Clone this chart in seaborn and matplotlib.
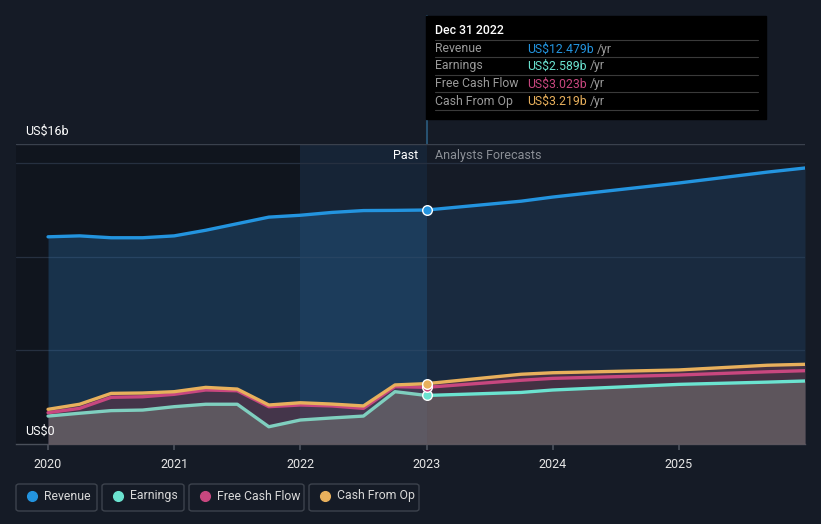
import numpy as np
import pandas as pd
import matplotlib
matplotlib.use('Agg')
import matplotlib.pyplot as plt
import seaborn as sns
from matplotlib.patches import Rectangle, FancyBboxPatch
from matplotlib.lines import Line2D

# Past values (US$b), quarterly
past_x = [2020.0, 2020.25, 2020.5, 2020.75, 2021.0, 2021.25, 2021.5,
          2021.75, 2022.0, 2022.25, 2022.5, 2022.75, 2023.0]
past_revenue = [11.05, 11.1, 11.0, 11.0, 11.1, 11.4, 11.75, 12.1, 12.2, 12.35, 12.45, 12.46, 12.479]
past_earnings = [1.49, 1.64, 1.78, 1.81, 1.99, 2.12, 2.12, 0.92, 1.28, 1.39, 1.49, 2.79, 2.589]
past_fcf = [1.67, 1.9, 2.49, 2.52, 2.65, 2.88, 2.84, 1.99, 2.08, 2.03, 1.9, 3.06, 3.023]
past_cfo = [1.85, 2.12, 2.7, 2.72, 2.79, 3.02, 2.93, 2.08, 2.2, 2.13, 2.03, 3.15, 3.219]

# Analyst forecasts (US$b)
fc_x = [2023.0, 2023.75, 2024.0, 2025.0, 2025.7, 2026.0]
fc_revenue = [12.479, 12.95, 13.17, 13.92, 14.5, 14.72]
fc_earnings = [2.589, 2.75, 2.88, 3.18, 3.3, 3.36]
fc_fcf = [3.023, 3.4, 3.5, 3.68, 3.85, 3.91]
fc_cfo = [3.219, 3.72, 3.8, 3.95, 4.2, 4.25]

year_ticks = [2020, 2021, 2022, 2023, 2024, 2025]
series_names = ['Revenue', 'Earnings', 'Free Cash Flow', 'Cash From Op']
tooltip_values = ['US$12.479b', 'US$2.589b', 'US$3.023b', 'US$3.219b']
colors = ['#2394df', '#6be3d0', '#c8477f', '#e8b05c']

BG = '#151b26'
W, H = 821, 524

sns.set_theme(style='dark')
plt.rcParams['font.family'] = ['Roboto', 'DejaVu Sans']

past = pd.DataFrame({'x': past_x, 'Revenue': past_revenue, 'Earnings': past_earnings,
                     'Free Cash Flow': past_fcf, 'Cash From Op': past_cfo})
fc = pd.DataFrame({'x': fc_x, 'Revenue': fc_revenue, 'Earnings': fc_earnings,
                   'Free Cash Flow': fc_fcf, 'Cash From Op': fc_cfo})


def fx(x):
    return x / W


def fy(y):
    return 1 - y / H


fig = plt.figure(figsize=(W / 100, H / 100), dpi=100, facecolor=BG)
ax = fig.add_axes([fx(16), fy(444), (805 - 16) / W, 300 / H])
ax.set_facecolor(BG)
ax.set_xlim(2019.746, 2026.0)
ax.set_ylim(0, 16)

# background regions
ax.axvspan(2019.746, 2022, color='#0c0f15', alpha=0.45, lw=0, zorder=0)
ax.axvspan(2022, 2023, color='#1b5280', alpha=0.18, lw=0, zorder=0)

for g in [5, 10, 15]:
    ax.axhline(g, color='#263040', lw=0.9, zorder=1)
ax.axhline(16, color='#3a414d', lw=1.0, zorder=1)

# area fills
ax.fill_between(past['x'], past['Revenue'], color='#2a6fa8', alpha=0.33, lw=0, zorder=2)
ax.fill_between(fc['x'], fc['Revenue'], color='#24507a', alpha=0.3, lw=0, zorder=2)
for d in [past, fc]:
    ax.fill_between(d['x'], d['Cash From Op'], color='#7a3a4a', alpha=0.45, lw=0, zorder=3)
    ax.fill_between(d['x'], d['Earnings'], color='#6e6e6e', alpha=0.6, lw=0, zorder=4)

# lines
for name, c in zip(series_names, colors):
    lc = c
    if name == 'Earnings':
        lc = '#7fcfbf'
    sns.lineplot(data=past, x='x', y=name, color=lc, lw=2.4, ax=ax, zorder=6)
    sns.lineplot(data=fc, x='x', y=name, color=c, lw=2.4, ax=ax, zorder=6)

# end-of-past markers
for name, c in zip(series_names, colors):
    ax.scatter([2023.0], [past[name].iloc[-1]], s=48, color=c, edgecolor='white',
               linewidth=1.0, zorder=8, clip_on=False)

ax.set_xticks(year_ticks)
ax.set_xticklabels([str(y) for y in year_ticks], color='#e6e6e6', fontsize=9)
ax.set_yticks([])
ax.set_xlabel('')
ax.set_ylabel('')
ax.tick_params(axis='x', length=4, color='#4a505a', pad=6, bottom=True)
for s in ['top', 'left', 'right']:
    ax.spines[s].set_visible(False)
ax.spines['bottom'].set_color('#4a505a')
ax.spines['bottom'].set_linewidth(1.0)
ax.grid(False)

# axis value labels
fig.text(fx(25), fy(131), 'US$16b', color='white', fontsize=9, va='center')
fig.text(fx(25), fy(431), 'US$0', color='white', fontsize=9, va='center')
fig.text(fx(418), fy(156), 'Past', color='white', fontsize=9, ha='right', va='center')
fig.text(fx(435), fy(156), 'Analysts Forecasts', color='#8b8f96', fontsize=9, va='center')

# vertical marker line at Dec 2022
fig.add_artist(Line2D([fx(427), fx(427)], [fy(16), fy(444)], color='#2b5c80', lw=1.2, zorder=0))

# tooltip
fig.add_artist(Rectangle((fx(426), fy(119)), (766 - 426) / W, (119 - 16) / H,
                         color='black', zorder=5))
fig.text(fx(435), fy(31), 'Dec 31 2022', color='white', fontsize=8.8, va='center',
         fontweight='medium', zorder=6)
row_y = [49, 66, 84, 101]
for i, (name, val, c) in enumerate(zip(series_names, tooltip_values, colors)):
    y = row_y[i]
    fig.add_artist(Line2D([fx(435), fx(758)], [fy(y - 9), fy(y - 9)], color='#3a3a3a',
                          lw=0.8, zorder=6))
    fig.text(fx(435), fy(y), name, color='#9a9a9a', fontsize=8.8, va='center', zorder=6)
    t = fig.text(fx(527), fy(y), val, color=c, fontsize=8.8, va='center', zorder=6)
    fig.canvas.draw()
    bb = t.get_window_extent()
    fig.text(bb.x1 / W + fx(3), fy(y), '/yr', color='#9a9a9a', fontsize=8.8,
             va='center', zorder=6)
fig.add_artist(Line2D([fx(435), fx(758)], [fy(110), fy(110)], color='#3a3a3a', lw=0.8, zorder=6))

# legend boxes
boxes = [(16, 97), (102, 184), (189, 304), (309, 419)]
for (x0, x1), name, c in zip(boxes, series_names, colors):
    fig.add_artist(FancyBboxPatch((fx(x0), fy(511)), (x1 - x0) / W, 27 / H,
                                  boxstyle='round,pad=0,rounding_size=0.004',
                                  facecolor='none', edgecolor='#3d434d', lw=1.0))
    fig.add_artist(Line2D([fx(x0 + 16)], [fy(496)], marker='o', markersize=7,
                          color=c, lw=0))
    fig.text(fx(x0 + 28), fy(496), name, color='#d8d8d8', fontsize=8.8, va='center')

plt.savefig('out.png', dpi=100, facecolor=BG)
